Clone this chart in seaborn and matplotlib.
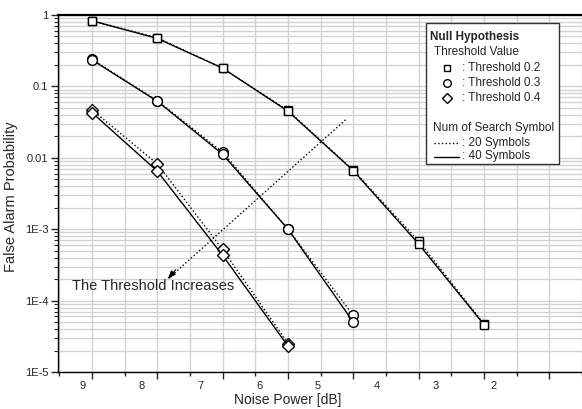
import matplotlib
matplotlib.use("Agg")
import matplotlib.pyplot as plt
from matplotlib.lines import Line2D
from matplotlib.patches import Rectangle
from matplotlib.ticker import FixedLocator, NullFormatter, LogLocator
import numpy as np
import pandas as pd
import seaborn as sns

# ---------------- data ----------------
x_sq = [9, 8, 7, 6, 5, 4, 3]
sq20 = [0.83, 0.48, 0.18, 0.046, 0.0067, 6.8e-4, 4.7e-5]
sq40 = [0.83, 0.47, 0.18, 0.045, 0.0066, 6.2e-4, 4.6e-5]

x_ci = [9, 8, 7, 6, 5]
ci20 = [0.24, 0.063, 0.012, 1.0e-3, 6.2e-5]
ci40 = [0.235, 0.062, 0.0112, 1.0e-3, 5.0e-5]

x_di = [9, 8, 7, 6]
di20 = [0.047, 0.0082, 5.2e-4, 2.5e-5]
di40 = [0.043, 0.0065, 4.3e-4, 2.3e-5]

x_ticks = [9, 8, 7, 6, 5, 4, 3, 2]
y_ticks = [1, 0.1, 0.01, 1e-3, 1e-4, 1e-5]
y_ticklabels = ["1", "0.1", "0.01", "1E-3", "1E-4", "1E-5"]

arrow_start = (5.12, 0.034)
arrow_end = (7.84, 2.0e-4)
annot_pos = (8.07, 1.6e-4)

# ---------------- style ----------------
sns.set_style("ticks")
plt.rcParams["font.family"] = ["Liberation Sans", "DejaVu Sans"]

W, H = 582, 409
fig = plt.figure(figsize=(W / 100, H / 100), dpi=100)
L, R, T, B = 58, 582, 15, 372
ax = fig.add_axes([L / W, 1 - B / H, (R - L) / W, (B - T) / H])

ax.set_yscale("log")
ax.set_xlim(9.52, 1.5)
ax.set_ylim(1e-5, 1)

series = [
    (x_sq, sq20, "s", ":"), (x_sq, sq40, "s", "-"),
    (x_ci, ci20, "o", ":"), (x_ci, ci40, "o", "-"),
    (x_di, di20, "D", ":"), (x_di, di40, "D", "-"),
]
msize = {"s": 6, "o": 7, "D": 6}
for xs, ys, mk, ls in series:
    df = pd.DataFrame({"x": xs, "y": ys})
    sns.lineplot(data=df, x="x", y="y", ax=ax, color="black", lw=1.0,
                 linestyle=ls, marker=mk, markersize=msize[mk],
                 markerfacecolor="white", markeredgecolor="black",
                 markeredgewidth=1.0, sort=False, zorder=3)

# grid
ax.set_axisbelow(True)
ax.xaxis.set_major_locator(FixedLocator(x_ticks))
ax.xaxis.set_minor_locator(FixedLocator(np.arange(1.5, 10.0, 1.0)))
ax.yaxis.set_major_locator(FixedLocator(y_ticks))
ax.yaxis.set_minor_locator(LogLocator(base=10, subs=np.arange(2, 10)))
ax.set_yticklabels(y_ticklabels)
ax.yaxis.set_minor_formatter(NullFormatter())
ax.grid(True, which="both", color="#d2d2d2", lw=1.0)

ax.tick_params(axis="x", which="major", direction="out", length=5, width=1,
               labelbottom=False)
ax.tick_params(axis="x", which="minor", direction="out", length=3, width=1)
ax.tick_params(axis="y", which="major", direction="out", length=5, width=1,
               labelsize=8, pad=2)
ax.tick_params(axis="y", which="minor", direction="out", length=3, width=0.8)

for s in ["left", "bottom"]:
    ax.spines[s].set_color("black")
    ax.spines[s].set_linewidth(1.0)
ax.spines["top"].set_color("black")
ax.spines["top"].set_linewidth(1.6)
ax.spines["right"].set_visible(False)

# tick labels (offset positions as in the reference)
def fwd(x):
    return 9 - (9.137 - np.asarray(x)) / 0.8984

def inv(v):
    return 9.137 - (9 - np.asarray(v)) * 0.8984

sec = ax.secondary_xaxis("bottom", functions=(fwd, inv))
sec.set_xticks(x_ticks)
sec.set_xticklabels([str(v) for v in x_ticks])
sec.tick_params(length=0, labelsize=8, pad=6.5)
sec.spines["bottom"].set_visible(False)

ax.set_xlabel("Noise Power [dB]", fontsize=10)
ax.xaxis.set_label_coords(0.439, -0.058)
ax.set_ylabel("False Alarm Probability", fontsize=10.5)
ax.yaxis.set_label_coords(-0.077, 0.49)

# arrow annotation
ax.plot([arrow_start[0], arrow_end[0]], [arrow_start[1], arrow_end[1]],
        ls=":", color="black", lw=1.0)
ax.annotate("", xy=arrow_end, xytext=(arrow_end[0] - 0.12, arrow_end[1] * 1.35),
            arrowprops=dict(arrowstyle="-|>,head_length=0.5,head_width=0.18",
                            color="black", lw=0.8, shrinkA=0, shrinkB=0))
ax.text(annot_pos[0], annot_pos[1], "The Threshold Increases", fontsize=10.5,
        ha="center", va="center")

# legend box (manual, pixel layout)
def fp(x, y):
    return (x / W, 1 - y / H)

x0, y0 = fp(426, 164)
x1, y1 = fp(559, 23)
fig.add_artist(Rectangle((x0, y0), x1 - x0, y1 - y0, transform=fig.transFigure,
                         facecolor="white", edgecolor="#333333", lw=1.0, zorder=5))
fs = 8.5
def ftxt(x, y, s, **kw):
    fig.text(*fp(x, y), s, fontsize=fs, va="center", ha="left", zorder=6, **kw)

ftxt(430, 37, "Null Hypothesis", fontweight="bold")
ftxt(434, 52, "Threshold Value")
for yy, mk, lab in [(68, "s", ": Threshold 0.2"), (83, "o", ": Threshold 0.3"),
                    (98, "D", ": Threshold 0.4")]:
    px, py = fp(446.5, yy)
    fig.add_artist(Line2D([px], [py], transform=fig.transFigure, marker=mk,
                          markersize=5 if mk != "o" else 5.5,
                          markerfacecolor="white", markeredgecolor="black",
                          markeredgewidth=1.0, ls="none", zorder=6))
    ftxt(462, yy, lab)
ftxt(433, 128, "Num of Search Symbol")
for yy, ls, lab in [(142.5, ":", ": 20 Symbols"), (156.5, "-", ": 40 Symbols")]:
    a = fp(434, yy)
    b = fp(459, yy)
    fig.add_artist(Line2D([a[0], b[0]], [a[1], b[1]], transform=fig.transFigure,
                          color="black", lw=1.0, ls=ls, zorder=6))
    ftxt(462, yy, lab)

fig.savefig("out.png", dpi=100)
